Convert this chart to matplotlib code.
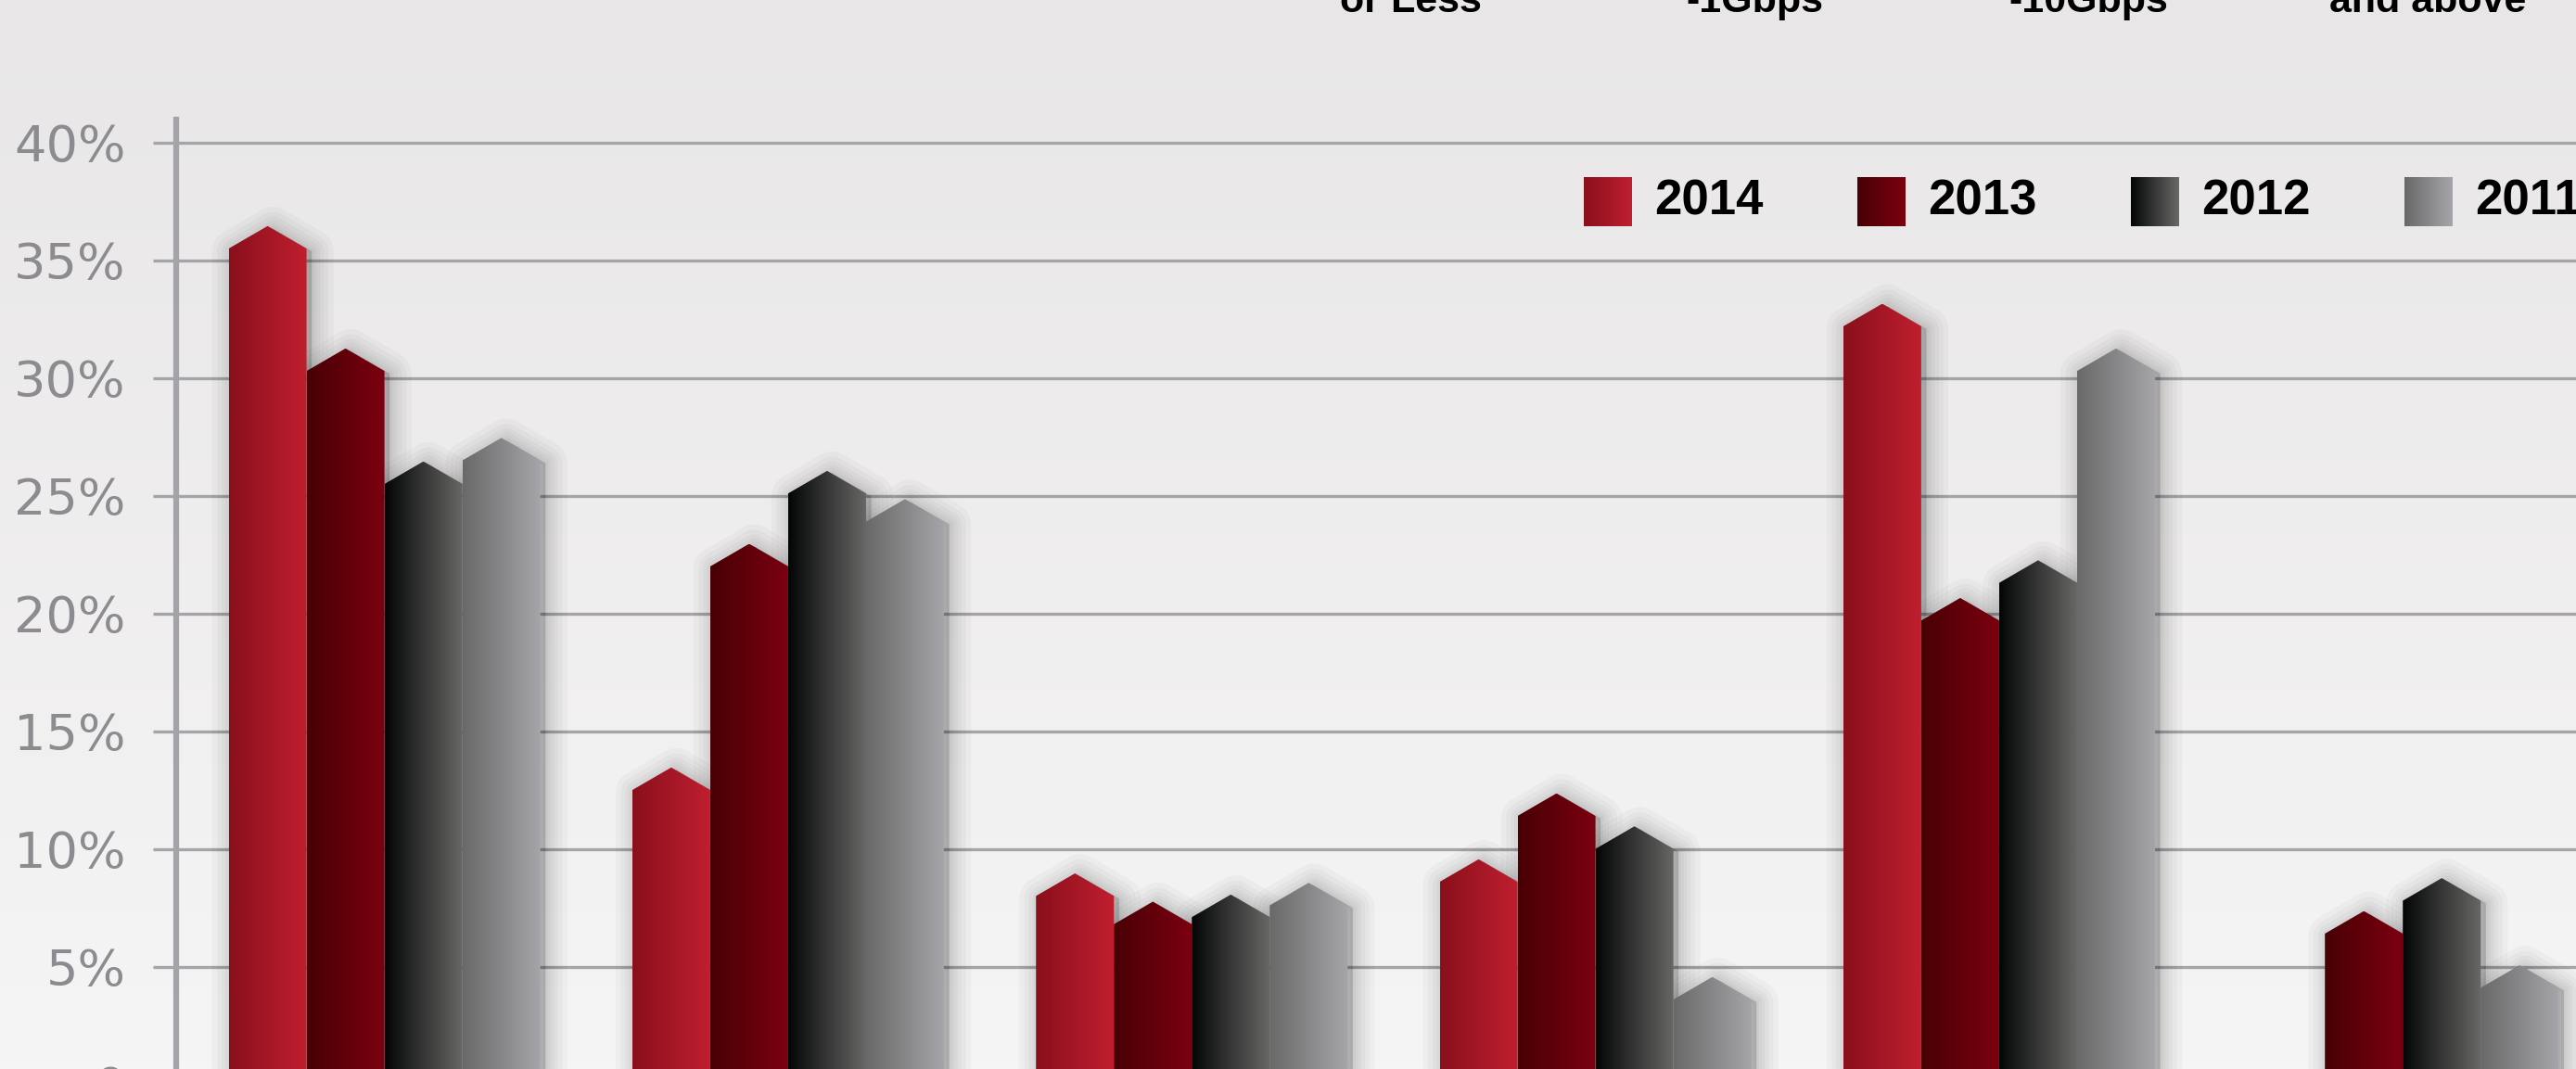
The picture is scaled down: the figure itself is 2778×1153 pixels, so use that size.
import numpy as np
import matplotlib
matplotlib.use("Agg")
import matplotlib.pyplot as plt
from matplotlib.colors import LinearSegmentedColormap
from matplotlib.patches import Polygon
from matplotlib.transforms import ScaledTranslation
from matplotlib import font_manager

# share of each speed band, per year (%)
years = ['2014', '2013', '2012', '2011']
v2014 = [35.5, 12.5, 8.0, 8.6, 32.2, 0.0]
v2013 = [30.3, 22.0, 6.8, 11.4, 19.7, 6.4]
v2012 = [25.5, 25.1, 7.1, 10.0, 21.3, 7.8]
v2011 = [26.5, 23.9, 7.6, 3.6, 30.3, 4.1]
series = [v2014, v2013, v2012, v2011]

yticks = [0, 5, 10, 15, 20, 25, 30, 35, 40]
ylabels = ['0', '5%', '10%', '15%', '20%', '25%', '30%', '35%', '40%']
band_labels = ['or Less', '-1Gbps', '-10Gbps', 'and above']

# left/right colour of the horizontal gradient on each bar
grads = [('#8a0f1c', '#c01f2f'),
         ('#480004', '#7c0010'),
         ('#040606', '#686866'),
         ('#696969', '#a6a6aa')]
cmaps = [LinearSegmentedColormap.from_list('g%d' % i, c) for i, c in enumerate(grads)]

names = {f.name for f in font_manager.fontManager.ttflist}
narrow = 'Liberation Sans Narrow' if 'Liberation Sans Narrow' in names else 'Liberation Sans'

W, H = 2778, 1153
fig = plt.figure(figsize=(W / 100, H / 100), dpi=100)

# background
bg = fig.add_axes([0, 0, 1, 1], zorder=-10)
bg.imshow(np.linspace(0, 1, 256)[:, None], cmap=LinearSegmentedColormap.from_list('bg', ['#e8e6e7', '#f6f5f6']),
          aspect='auto', extent=(0, 1, 1, 0), interpolation='bilinear')
bg.axis('off')

ax = fig.add_axes([190 / W, -16.5 / H, (W - 190) / W, 1040.5 / H])
ax.set_facecolor('none')

n_groups = len(v2014)
width = 0.193
tip = 0.96
shadow_off = ScaledTranslation(4 / 72, -2 / 72, fig.dpi_scale_trans)

for k, vals in enumerate(series):
    for g in range(n_groups):
        v = vals[g]
        if v <= 0:
            continue
        xc = g + (k - 1.5) * width
        x0, x1 = xc - width / 2, xc + width / 2
        pts = [(x0, 0), (x0, v), (xc, v + tip), (x1, v), (x1, 0)]
        # soft drop shadow
        for lw in (34, 26, 19, 13, 8, 4):
            ax.add_patch(Polygon(pts, closed=True, facecolor=(0, 0, 0, 0.028),
                                 edgecolor=(0, 0, 0, 0.028), lw=lw, joinstyle='round',
                                 transform=ax.transData + shadow_off, zorder=2))
        shape = Polygon(pts, closed=True, facecolor='none', edgecolor='none', zorder=3)
        ax.add_patch(shape)
        im = ax.imshow(np.linspace(0, 1, 256)[None, :], cmap=cmaps[k], aspect='auto',
                       extent=(x0, x1, 0, v + tip), interpolation='bilinear', zorder=3)
        im.set_clip_path(shape)

ax.set_xlim(-0.516, 5.429)
ax.set_ylim(0, 40.98)
ax.set_xticks([])
ax.set_yticks(yticks)
ax.set_yticklabels(ylabels)
ax.yaxis.grid(True, color='#a4a4a9', lw=2.4)
ax.set_axisbelow(True)
ax.tick_params(axis='y', length=18, width=2.4, color='#a4a4a9', pad=21,
               labelsize=39, labelcolor='#8b8b90')
for s in ['top', 'right', 'bottom']:
    ax.spines[s].set_visible(False)
ax.spines['left'].set_color('#a3a3a8')
ax.spines['left'].set_linewidth(4.5)

# legend and band captions, laid out in pixel units
lay = fig.add_axes([0, 0, 1, 1], zorder=5)
lay.set_facecolor('none')
for i, yr in enumerate(years):
    sx = 1708 + i * 295
    lay.imshow(np.linspace(0, 1, 64)[None, :], cmap=cmaps[i], aspect='auto',
               extent=(sx, sx + 52, 244, 191), interpolation='bilinear')
    lay.text(sx + 76, 218, yr, ha='left', va='center', fontsize=38,
             fontweight='bold', family=narrow, color='black')
for cx, lab in zip([1521, 1892, 2252, 2618], band_labels):
    lay.text(cx, 13, lab, ha='center', va='baseline', fontsize=31,
             fontweight='bold', family=narrow, color='black')
lay.set_xlim(0, W)
lay.set_ylim(H, 0)
lay.axis('off')

fig.savefig('out.png', dpi=100)
